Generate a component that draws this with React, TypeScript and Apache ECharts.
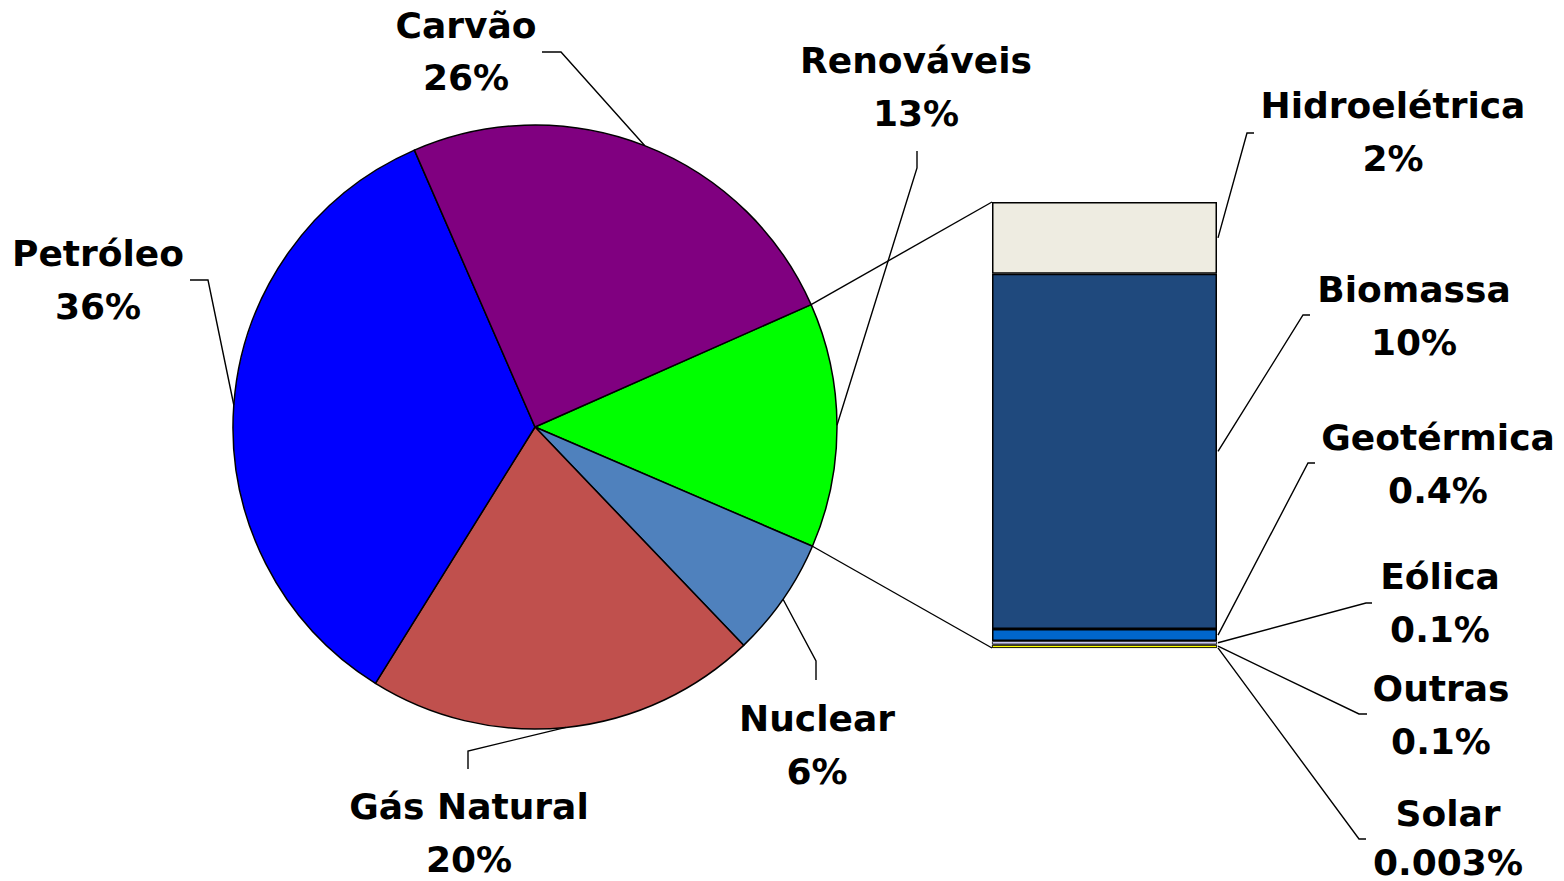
import React, { useEffect, useRef } from "react";
import * as echarts from "echarts";

// Pie (world primary energy) – clockwise from Renováveis
const pieNames = ["Renováveis", "Nuclear", "Gás Natural", "Petróleo", "Carvão"];
const pieValues = [13.1, 6.4, 21.0, 34.6, 24.9];
const pieLabels = ["13%", "6%", "20%", "36%", "26%"];
const pieColors = ["#00FF00", "#4F81BD", "#C0504D", "#0000FF", "#800080"];

// Bar breakdown of Renováveis – bottom to top
const barNames = ["Solar", "Outras", "Eólica", "Geotérmica", "Biomassa", "Hidroelétrica"];
const barValues = [0.003, 0.1, 0.1, 0.35, 10.4, 2.1];
const barLabels = ["0.003%", "0.1%", "0.1%", "0.4%", "10%", "2%"];
const barColors = ["#FFFF00", "#C8C8F2", "#C8C8F2", "#0066CC", "#1F497D", "#EEECE1"];

// Layout (label placement only): [x, y of name line, y of value line]
const PIE_CENTER = [535, 427];
const PIE_R = 302;
const START_ANGLE = 23.9;
const GRID = { left: 992, top: 202, width: 225, height: 446 };

const pieLabelPos: Record<string, number[]> = {
  "Renováveis": [916, 60, 113],
  "Nuclear": [817, 718, 771],
  "Gás Natural": [469, 806, 859],
  "Petróleo": [98, 253, 306],
  "Carvão": [466, 25, 77],
};
const pieBend: Record<string, number[][]> = {
  "Renováveis": [[917, 168], [917, 151]],
  "Nuclear": [[816, 661], [816, 680]],
  "Gás Natural": [[468, 751], [468, 769]],
  "Petróleo": [[208, 280], [190, 280]],
  "Carvão": [[561, 52], [542, 52]],
};
const barLabelPos: Record<string, number[]> = {
  "Solar": [1448, 813, 862],
  "Outras": [1441, 688, 741],
  "Eólica": [1440, 576, 629],
  "Geotérmica": [1438, 437, 490],
  "Biomassa": [1414, 289, 342],
  "Hidroelétrica": [1393, 105, 158],
};
const barBend: Record<string, number[][]> = {
  "Solar": [[1359, 839], [1366, 839]],
  "Outras": [[1359, 714], [1367, 714]],
  "Eólica": [[1366, 603], [1372, 603]],
  "Geotérmica": [[1308, 463], [1315, 463]],
  "Biomassa": [[1303, 315], [1310, 315]],
  "Hidroelétrica": [[1247, 133], [1254, 133]],
};

const FONT = {
  fontFamily: "DejaVu Sans",
  fontWeight: "bold" as const,
  fontSize: 36,
  lineHeight: 36,
  fill: "#000",
};

function labelTexts(x: number, y1: number, y2: number, name: string, pct: string) {
  return [name, pct].map((t, k) => ({
    type: "text",
    silent: true,
    x,
    y: k === 0 ? y1 : y2,
    z: 10,
    style: { ...FONT, text: t, textAlign: "center", textVerticalAlign: "middle" },
  }));
}

export default function App() {
  const ref = useRef<HTMLDivElement>(null);
  useEffect(() => {
    if (!ref.current) return;
    const chart = echarts.init(ref.current, undefined, { renderer: "svg" });
    const barTotal = barValues.reduce((a, b) => a + b, 0);

    const option: any = {
      animation: false,
      backgroundColor: "#fff",
      grid: { ...GRID, containLabel: false },
      xAxis: { type: "category", data: ["Renováveis"], show: false },
      yAxis: { type: "value", min: 0, max: barTotal, show: false },
      series: [
        {
          type: "pie",
          silent: true,
          center: PIE_CENTER,
          radius: PIE_R,
          startAngle: START_ANGLE,
          clockwise: true,
          label: { show: false },
          labelLine: { show: false },
          itemStyle: { borderColor: "#000", borderWidth: 1.5 },
          data: pieNames.map((n, i) => ({ name: n, value: pieValues[i], itemStyle: { color: pieColors[i] } })),
        },
        ...barNames.map((n, i) => ({
          type: "bar",
          name: n,
          stack: "ren",
          silent: true,
          barWidth: "100%",
          barCategoryGap: "0%",
          barMinHeight: n === "Solar" ? 3 : 0,
          z: n === "Solar" ? 5 : 2,
          itemStyle: {
            color: barColors[i],
            borderColor: "#000",
            borderWidth: n === "Solar" || n === "Outras" || n === "Eólica" ? 0.8 : 1.5,
          },
          data: [barValues[i]],
        })),
      ],
    };
    chart.setOption(option);

    const pieTotal = pieValues.reduce((a, b) => a + b, 0);
    const toRad = (d: number) => (d * Math.PI) / 180;
    const pt = (deg: number) => [PIE_CENTER[0] + PIE_R * Math.cos(toRad(deg)), PIE_CENTER[1] - PIE_R * Math.sin(toRad(deg))];
    const graphics: any[] = [];
    let cum = 0;
    const edges: number[] = [];
    pieNames.forEach((n, i) => {
      const a0 = START_ANGLE - (cum / pieTotal) * 360;
      cum += pieValues[i];
      const a1 = START_ANGLE - (cum / pieTotal) * 360;
      edges.push(a0, a1);
      const mid = (a0 + a1) / 2;
      const anchor = pt(mid);
      graphics.push({
        type: "polyline",
        silent: true,
        shape: { points: [anchor, ...pieBend[n]] },
        style: { stroke: "#000", lineWidth: 1.4, fill: null },
        z: 10,
      });
      const p = pieLabelPos[n];
      graphics.push(...labelTexts(p[0], p[1], p[2], n, pieLabels[i]));
    });

    const barLeft = GRID.left;
    const barRight = GRID.left + GRID.width;
    const yTop = chart.convertToPixel({ yAxisIndex: 0 }, barTotal) as number;
    const yBottom = chart.convertToPixel({ yAxisIndex: 0 }, 0) as number;
    graphics.push({
      type: "line", silent: true, z: 10,
      shape: { x1: pt(edges[0])[0], y1: pt(edges[0])[1], x2: barLeft, y2: yTop },
      style: { stroke: "#000", lineWidth: 1.4 },
    });
    graphics.push({
      type: "line", silent: true, z: 10,
      shape: { x1: pt(edges[1])[0], y1: pt(edges[1])[1], x2: barLeft, y2: yBottom },
      style: { stroke: "#000", lineWidth: 1.4 },
    });

    let bc = 0;
    barNames.forEach((n, i) => {
      const midVal = bc + barValues[i] / 2;
      bc += barValues[i];
      const y = chart.convertToPixel({ yAxisIndex: 0 }, midVal) as number;
      graphics.push({
        type: "polyline",
        silent: true,
        z: 10,
        shape: { points: [[barRight + 1, y], ...barBend[n]] },
        style: { stroke: "#000", lineWidth: 1.4, fill: null },
      });
      const p = barLabelPos[n];
      graphics.push(...labelTexts(p[0], p[1], p[2], n, barLabels[i]));
    });

    chart.setOption({ graphic: graphics });
    return () => chart.dispose();
  }, []);

  return (
    <div
      ref={ref}
      style={{ position: "absolute", left: 0, top: 0, width: 1564, height: 881, background: "#fff" }}
    />
  );
}
